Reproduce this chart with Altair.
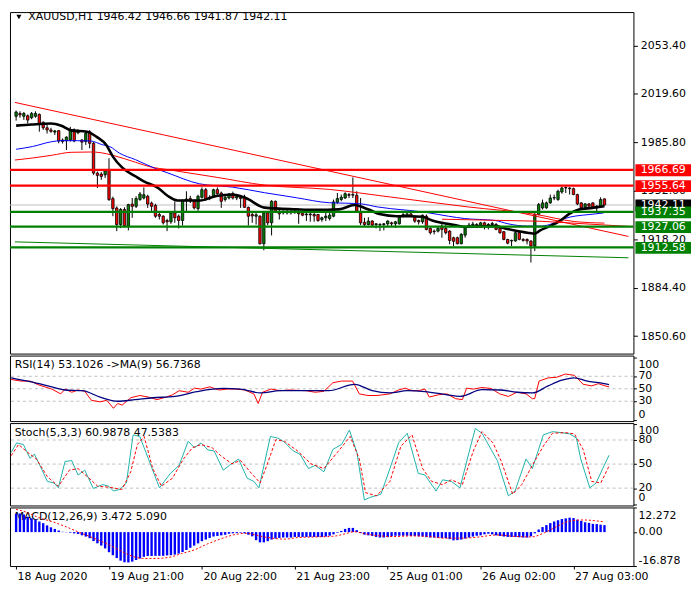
import altair as alt
import pandas as pd

# ---------------------------------------------------------------- data
main_title = "XAUUSD,H1  1946.42 1946.66 1941.87 1942.11"
rsi_title = "RSI(14) 53.1026  ->MA(9) 56.7368"
stoch_title = "Stoch(5,3,3) 60.9878 47.5383"
macd_title = "MACD(12,26,9) 3.472 5.090"

price_ticks = [2053.40, 2019.60, 1985.80, 1952.00, 1918.20, 1884.40, 1850.60]
date_tick_idx = [0, 24, 48, 72, 96, 120, 144]
date_tick_labels = ["18 Aug 2020", "19 Aug 21:00", "20 Aug 22:00", "21 Aug 23:00",
                    "25 Aug 01:00", "26 Aug 02:00", "27 Aug 03:00"]

opens = [
    2004, 2006, 2004, 2004.4, 2003, 2004, 2005.3, 1999.8, 1996, 1994.5,
    1993, 1994, 1987.5, 1987, 1987.5, 1994.4, 1992.5, 1987.5, 1986.4, 1993.3,
    1985.2, 1964.4, 1963.7, 1963.2, 1966.7, 1946.6, 1940, 1928.5, 1939, 1927.5,
    1942.8, 1941.2, 1946, 1947, 1948.2, 1943.5, 1941.9, 1935.5, 1934.3, 1931.3,
    1930.4, 1936.6, 1934.3, 1931.3, 1945.2, 1946.6, 1944.7, 1939.6, 1947.5, 1952.8,
    1947.5, 1947.7, 1952.8, 1950.5, 1945.9, 1947, 1950, 1947, 1947.5, 1947.7,
    1940.5, 1935.5, 1934.3, 1934.3, 1915.1, 1936.6, 1929.7, 1944.7, 1937.8, 1937.5,
    1936.6, 1937.5, 1936.8, 1937.8, 1936.4, 1935.3, 1935.8, 1935.5, 1935.5, 1932,
    1933.2, 1932.7, 1934.3, 1944, 1946, 1947, 1949.4, 1949.4, 1948.9, 1936.6,
    1930, 1928.5, 1930.9, 1928.5, 1928.2, 1928.5, 1929, 1929.7, 1929, 1929,
    1934.3, 1935, 1935.9, 1933.6, 1931.3, 1930.4, 1934.3, 1925.8, 1923.9, 1923.9,
    1927.4, 1925.8, 1923.9, 1919.3, 1919.3, 1915.1, 1921.1, 1927, 1928.1, 1928.5,
    1928.1, 1929.7, 1928.1, 1928.5, 1928.5, 1925.8, 1923.5, 1918.1, 1917, 1917,
    1922.8, 1918.1, 1918.1, 1917, 1913.5, 1935.5, 1940.1, 1940.1, 1943.6, 1947,
    1946, 1951.2, 1954, 1954, 1953.5, 1949.4, 1943.6, 1940.6, 1942.9, 1943.6,
    1941.3, 1940.6, 1946.42]
highs = [
    2008, 2007.5, 2007, 2005.3, 2007, 2007.5, 2006, 2000.5, 1998, 1996,
    1994.5, 1994.5, 1988.5, 1990, 1996.7, 1995.6, 1995, 1988, 1993.3, 1994.4,
    1986, 1965.5, 1965, 1966.7, 1974.8, 1948, 1941.2, 1940, 1940.5, 1943,
    1947, 1948.2, 1951.2, 1954.4, 1949.3, 1944.5, 1943, 1936.6, 1935, 1932.5,
    1937.5, 1944.7, 1935.5, 1945.9, 1951.7, 1948.5, 1946, 1949.3, 1954.4, 1954,
    1949, 1953.5, 1954.4, 1951.5, 1948.5, 1950.5, 1951.5, 1949.8, 1948.5, 1949.3,
    1941, 1936.5, 1936.5, 1935, 1937.8, 1937.5, 1945.5, 1945.2, 1940.1, 1939,
    1939, 1939, 1939, 1938.5, 1937.5, 1937, 1937, 1937, 1935.8, 1934,
    1937.1, 1936.6, 1945.9, 1950.5, 1949.4, 1951, 1950.5, 1961.4, 1951.7, 1947,
    1933.2, 1933.6, 1931.5, 1929.5, 1929.5, 1929.5, 1931.5, 1930.5, 1931, 1934.3,
    1936.5, 1937, 1937.1, 1935, 1932, 1935.5, 1935.5, 1926.5, 1925, 1926.5,
    1929.7, 1928.5, 1924.5, 1920, 1920, 1922.5, 1927, 1929.7, 1930.4, 1929.5,
    1930.4, 1930.4, 1929.5, 1930.4, 1929.5, 1926.5, 1924, 1918.5, 1918, 1923.5,
    1923.5, 1919, 1918.8, 1917.5, 1936.5, 1943.6, 1945.9, 1944.5, 1949.4, 1949.4,
    1952.8, 1955.1, 1955.1, 1954.5, 1954.3, 1950, 1944, 1943.5, 1943.5, 1944,
    1942, 1947.5, 1946.66]
lows = [
    2001, 2003, 2001.5, 1999, 2002, 2003, 1993.3, 1994.5, 1992, 1992.5,
    1991, 1985.2, 1985, 1980.5, 1986.4, 1985.9, 1991.5, 1980.5, 1984, 1981.7,
    1963.2, 1954, 1959.7, 1961, 1945, 1934.3, 1923.9, 1926, 1926.5, 1924.4,
    1933.2, 1940, 1945, 1946, 1940.1, 1936.6, 1933.2, 1932, 1928.5, 1923.9,
    1929, 1929.7, 1925.8, 1927.8, 1937.8, 1943.5, 1939, 1938, 1946.6, 1945,
    1945.5, 1947, 1949.3, 1940.1, 1944.5, 1946, 1946, 1945.5, 1940.1, 1940,
    1927.8, 1929.7, 1928.5, 1914.5, 1910.5, 1928, 1920.9, 1936.6, 1932, 1935.5,
    1935.5, 1935.5, 1936, 1929, 1934.3, 1931, 1930.5, 1930.5, 1930.4, 1930.4,
    1930.9, 1931.3, 1933.6, 1942.9, 1944.7, 1946.3, 1947, 1947, 1936.6, 1928.1,
    1927.4, 1927.9, 1926.7, 1925.8, 1923.9, 1924.4, 1927.4, 1927.4, 1926.2, 1928.5,
    1933.5, 1934, 1934.3, 1929.7, 1928.5, 1929, 1924.4, 1921.6, 1921.6, 1923,
    1919.3, 1921.6, 1914.7, 1913.5, 1914.7, 1914.7, 1919.3, 1926, 1926.5, 1926,
    1927, 1925.1, 1925.1, 1927.4, 1924.5, 1922, 1917.5, 1914.7, 1913.5, 1916.5,
    1917.5, 1916.5, 1914.7, 1902, 1910, 1935, 1939, 1939.5, 1943, 1945.5,
    1945, 1950, 1950.5, 1949.4, 1949, 1942, 1939, 1939.5, 1940, 1940,
    1937.8, 1940, 1941.87]
closes = [
    2007, 2005, 2006, 2001.4, 2006, 2006, 1999, 1996, 1994.5, 1993.5,
    1993.8, 1986.8, 1986.5, 1989.5, 1994.4, 1986.8, 1993.3, 1986, 1992.1, 1985.2,
    1964.4, 1962.8, 1962.1, 1966, 1945.9, 1939.6, 1928.5, 1939, 1927.5, 1942.4,
    1941.2, 1946.6, 1949.8, 1949.3, 1942.8, 1941.2, 1934.3, 1934.3, 1929.7, 1930.4,
    1936.6, 1933.2, 1931.3, 1944.7, 1946.3, 1945, 1940.1, 1948.2, 1952.8, 1945.9,
    1946.6, 1952.8, 1950, 1944.7, 1947.5, 1949.8, 1947, 1948, 1946.6, 1940.5,
    1934.3, 1934.5, 1935.3, 1915.1, 1936.6, 1929.7, 1944.7, 1937.8, 1936, 1936.6,
    1937.8, 1936.6, 1937.8, 1936, 1935, 1935.8, 1935.3, 1934.5, 1931.3, 1933.2,
    1934.3, 1935, 1944.3, 1946.6, 1947.5, 1950, 1948.9, 1949, 1937.8, 1929.7,
    1928.5, 1930.9, 1928.1, 1929, 1928.5, 1929, 1930.9, 1929, 1930.4, 1933.6,
    1935.5, 1935.9, 1935, 1930.9, 1930.4, 1935, 1925.1, 1922.8, 1923.5, 1925.8,
    1925.1, 1922.8, 1917.4, 1916.8, 1915.1, 1921.6, 1926.2, 1928.1, 1928.8, 1928.1,
    1929.7, 1927.4, 1928.5, 1929.2, 1925.1, 1922.8, 1918.1, 1915.5, 1917.4, 1922.8,
    1918.1, 1917.4, 1917, 1913.5, 1935.5, 1942.4, 1943.6, 1943.6, 1947, 1947.3,
    1951.7, 1954, 1954.3, 1953.5, 1949.4, 1942.9, 1940.1, 1942.9, 1941.3, 1940.6,
    1940.1, 1945.9, 1942.11]

# moving averages on the price chart (bar index, price)
ma_black_idx = [0, 4, 9, 11.7, 14.2, 18.3, 20.9, 23.3, 25, 27.5, 30.8, 33, 36.7, 39.2, 41.7,
                47.5, 51.7, 55.9, 59.2, 64.2, 72.4, 77.4, 83.4, 87.4, 90.9, 94.2, 98.3, 101.7,
                105, 107.5, 110, 113.3, 115.8, 120, 123.8, 126.3, 128.8, 132.1, 134, 135.4,
                137.9, 140.4, 142.9, 145.4, 148.8, 152]
ma_black_val = [1997.5, 1998.3, 1999.0, 1997.4, 1994.2, 1993.3, 1989.5, 1984.0, 1975.9, 1968.0,
                1962.2, 1958.6, 1954.0, 1948.4, 1945.3, 1945.3, 1948.4, 1949.5, 1947.2, 1940.3,
                1939.1, 1938.7, 1939.1, 1942.1, 1939.1, 1935.6, 1934.3, 1934.3, 1933.9, 1931.3,
                1929.7, 1928.1, 1926.9, 1927.2, 1927.4, 1925.8, 1924.4, 1922.8, 1922.1, 1924.4,
                1927.4, 1930.9, 1935.9, 1938.9, 1940.1, 1941.3]
ma_blue_idx = [0, 4.2, 9.2, 11.7, 15.8, 19.2, 22.4, 24.2, 26.7, 30.9, 35.8, 39.2, 47.4, 55.9,
               64.2, 72.4, 80.9, 85, 89.2, 93.3, 96.7, 101.7, 106.7, 111.7, 115.8, 123.8, 127.1,
               132.1, 135.4, 137.9, 140.4, 142.9, 146.3, 149.6, 151.8]
ma_blue_val = [1981.0, 1982.9, 1986.3, 1987.0, 1987.0, 1986.8, 1984.1, 1982.9, 1978.3, 1973.7,
               1967.8, 1964.5, 1956.9, 1954.6, 1950.7, 1947.2, 1943.7, 1943.4, 1942.9, 1940.8,
               1939.6, 1938.3, 1936.6, 1934.3, 1932.7, 1931.3, 1929.0, 1927.4, 1927.4, 1928.5,
               1931.3, 1933.6, 1935.0, 1935.9, 1936.6]
ma_red_idx = [-0.3, 4.2, 9.2, 14.2, 19.2, 21.7, 25, 30.9, 35, 39.2, 51.7, 64.2, 80.9, 96.7,
              116.7, 134.2, 144.2, 152]
ma_red_val = [1973.5, 1974.9, 1976.8, 1978.9, 1979.1, 1978.7, 1976.8, 1971.9, 1968.5, 1966.8,
              1961.5, 1956.0, 1953.0, 1947.7, 1940.8, 1935.6, 1930.6, 1929.5]

# trend lines (bar index, price)
trend_red_idx = [-0.3, 158.2]
trend_red_val = [2013.7, 1920.2]
trend_red2_idx = [110, 135.4, 158.2]
trend_red2_val = [1932.2, 1930.8, 1927.2]
trend_green_idx = [-0.3, 158.2]
trend_green_val = [1916.4, 1905.3]

# horizontal levels
level_prices = [1966.69, 1955.64, 1937.35, 1927.06, 1912.58]
level_colors = ["#FF0000", "#FF0000", "#008000", "#008000", "#008000"]
last_price = 1942.11
box_prices = [1942.11, 1966.69, 1955.64, 1937.35, 1927.06, 1912.58]
box_texts = ["1942.11", "1966.69", "1955.64", "1937.35", "1927.06", "1912.58"]
box_colors = ["#000000", "#FF0000", "#FF0000", "#008000", "#008000", "#008000"]

# RSI(14) and its MA(9)
rsi_idx = [0, 2.5, 4.8, 7, 10.3, 12.6, 13.7, 15.4, 17, 18.7, 20.4, 22.6, 24.3, 26, 27.1, 28.2,
           30.4, 32.7, 34.9, 37.1, 39.4, 41, 42.7, 45, 46.6, 48.3, 50.5, 52.8, 55, 57.2, 59.4,
           61.7, 62.8, 63.9, 66.1, 68.4, 70.6, 75, 77.3, 79.5, 81.8, 84, 86.8, 88.5, 90.7, 93,
           96.3, 98.5, 100.2, 101.9, 103.5, 105.2, 106.3, 108.6, 110.8, 113, 114.7, 115.8,
           117.5, 119.7, 122, 124.2, 126.4, 128.6, 130.9, 132.5, 133.1, 134.2, 136.5, 138.7,
           140.9, 143.2, 145.4, 147.6, 149.3, 151, 152]
rsi_val = [64.9, 62.3, 62.3, 56.2, 49.5, 41.8, 49.5, 44.4, 48, 45.9, 31.5, 29, 31.5, 18.7, 26.4,
           23.8, 35.6, 39.2, 36.7, 32.6, 36.7, 40.3, 46.9, 44.4, 51, 49.5, 53.1, 48, 49.5, 49.5,
           48, 41.8, 26.4, 44.4, 49.5, 46.9, 48, 46.9, 44.4, 45.9, 59.7, 62.3, 62.3, 41.8, 39.2,
           39.2, 41.8, 48, 51, 46.9, 46.9, 49.5, 36.7, 40.3, 41.8, 34.1, 32.6, 51, 49.5, 52,
           50.5, 41.8, 37.7, 44.4, 41.8, 34.1, 34.1, 62.3, 67.4, 68.5, 73.6, 71.5, 57.2, 54.6,
           58.2, 54.6, 53.1]
rsi_ma_idx = [0, 4.8, 10.3, 13.7, 18.1, 22.6, 27.1, 31.5, 36, 41.6, 47.2, 53.9, 58.3, 63.3,
              68.4, 77.3, 80.7, 87.3, 91.8, 96.3, 100.7, 105.2, 110.8, 114.1, 119.7, 124.2,
              128.6, 132.5, 136.5, 139.8, 143.2, 146.5, 149.3, 152]
rsi_ma_val = [67.4, 61.3, 53.1, 48, 46.9, 36.7, 30, 32.6, 35.6, 37.7, 45.4, 50.5, 49.5, 43.3,
              46.9, 46.9, 46.9, 57.2, 46.9, 43.3, 46.9, 45.4, 40.3, 37.7, 48.5, 48, 44.4, 43.3,
              54.6, 63.3, 67.4, 62.3, 59.7, 56.7]
rsi_levels = [70, 50, 30]

# Stochastic(5,3,3)
stoch_k_idx = [0, 1.4, 3.1, 4.8, 5.9, 7.5, 9.2, 10.9, 12, 13.7, 15.4, 17, 18.7, 20.9, 23.2,
               24.8, 26, 27.6, 29.3, 31, 32.7, 34.9, 37.7, 40.5, 42.7, 45, 46.6, 48.3, 50, 51.6,
               53.9, 55.5, 57.8, 60, 61.7, 63, 65.9, 67.8, 69.5, 71.7, 73.4, 75.6, 77.3, 79.5,
               81.8, 84, 86, 87.9, 89.8, 91.2, 94, 96.3, 98.5, 100.7, 103.5, 105.2, 108, 109.7,
               111.9, 114.1, 116.4, 118, 119.7, 122, 123.6, 126.4, 128.1, 130.9, 132.5, 135.3,
               137.6, 139.8, 142, 143.7, 144.8, 147.1, 148.7, 150.4, 152]
stoch_k_val = [64.4, 76.4, 74.4, 57.2, 62.4, 46.4, 28.4, 26.4, 20.4, 53.2, 54.4, 36.4, 42.4,
               19.6, 24.4, 22.4, 16.4, 18.4, 26.4, 86.4, 84.4, 56.4, 20.4, 38.4, 48.4, 78.4,
               70.4, 76.4, 67.6, 66.4, 42.4, 48.4, 56.4, 32.4, 28.4, 20.4, 84.4, 82.4, 77.2,
               66.4, 62.4, 44.4, 48.4, 40.4, 68.4, 74.4, 92.4, 64.4, 5.2, 8.4, 12.4, 44.4, 76.4,
               88.4, 38.4, 36.4, 16.4, 30.4, 28.4, 20.4, 64.4, 94.4, 88.4, 68.4, 54.4, 10.4,
               16.4, 56.4, 44.4, 86.4, 90.4, 89.2, 87.6, 82.4, 56.4, 20.4, 26.4, 44.4, 61.0]
stoch_d_idx = [0, 1.9, 4.2, 6.4, 9.2, 12, 14.8, 17, 19.8, 22, 24.8, 28.2, 30.4, 32.1, 33.8, 36,
               38.2, 41, 43.8, 46.1, 48.3, 51.1, 53.3, 56.1, 58.3, 61.1, 63.3, 65, 67.3, 69.5,
               72.8, 76.2, 79.5, 82.9, 86.2, 88.5, 90.1, 92.9, 96.3, 99.1, 101.9, 104.6, 106.9,
               109.7, 111.9, 114.7, 117.5, 119.7, 122.5, 124.7, 127.5, 129.8, 132.5, 135.3,
               137.6, 140.9, 143.2, 145.4, 147.6, 149.9, 152]
stoch_d_val = [60.4, 74.4, 64.4, 56.4, 34.4, 22.4, 42.4, 44.4, 32.4, 22.4, 21.2, 18.4, 40.4,
               74.4, 84.4, 44.4, 22.4, 32.4, 56.4, 70.4, 74.4, 70.4, 60.4, 50.4, 54.4, 38.4,
               26.4, 48.4, 80.4, 78.4, 66.4, 50.4, 44.4, 64.4, 84.4, 56.4, 14.4, 10.4, 28.4,
               72.4, 86.4, 44.4, 28.4, 24.4, 30.4, 24.4, 66.4, 90.4, 76.4, 52.4, 12.4, 24.4,
               48.4, 72.4, 88.4, 89.2, 87.6, 68.4, 28.4, 26.4, 47.5]
stoch_levels = [80, 50, 20]

# MACD(12,26,9): histogram per bar and signal line
macd_hist = [
    9.24, 9.24, 8.76, 7.65, 6.85, 6.21, 5.26, 4.46, 3.35, 2.39,
    1.59, 0.80, 0.16, -0.10, -0.32, -0.64, -0.96, -1.59, -2.23, -3.03,
    -4.46, -5.58, -6.69, -8.12, -10.0, -11.5, -12.9, -14.2, -15.0, -15.1,
    -14.7, -13.9, -13.1, -12.3, -11.9, -11.9, -11.8, -11.8, -11.8, -11.6,
    -11.5, -11.2, -10.7, -9.9, -8.9, -7.8, -6.7, -5.6, -4.5, -3.7,
    -2.9, -2.2, -1.9, -1.6, -1.3, -0.8, -0.6, -0.5, -0.3, -0.6,
    -1.3, -2.1, -4.0, -5.1, -5.1, -4.5, -3.7, -3.2, -2.9, -2.7,
    -2.7, -2.7, -2.4, -2.4, -2.4, -2.4, -2.4, -2.4, -2.4, -2.4,
    -2.2, -1.8, -1.1, -0.3, 0.6, 1.6, 2.1, 2.1, 1.0, -0.5,
    -1.3, -1.6, -1.9, -2.4, -2.7, -2.7, -2.5, -2.1, -1.8, -1.8,
    -1.8, -1.8, -1.9, -1.9, -2.1, -2.2, -2.5, -2.7, -2.7, -2.9,
    -3.0, -3.0, -3.5, -4.1, -4.0, -3.7, -3.2, -2.7, -2.2, -1.8,
    -1.6, -1.1, -0.8, -1.1, -1.6, -1.9, -2.2, -2.4, -2.4, -2.4,
    -2.5, -2.7, -2.7, -2.1, -0.6, 1.3, 2.5, 3.5, 4.5, 5.3,
    5.9, 6.5, 6.85, 7.2, 7.0, 6.2, 5.6, 4.9, 4.6, 4.1,
    4.0, 3.7, 3.47]
macd_sig_idx = [0, 2.5, 5.9, 9.2, 12.6, 15.9, 19.3, 22.6, 26, 29.3, 32.7, 36, 39.4, 42.7, 46.1,
                49.4, 52.7, 56.1, 59.4, 62.8, 66.1, 69.5, 72.8, 77.3, 81.8, 85.1, 87.3, 90.7, 94,
                97.4, 101.9, 106.3, 110.8, 115.3, 119.7, 124.2, 128.6, 133.1, 136.5, 139.8,
                143.2, 146.5, 149.9, 152]
macd_sig_val = [11.3, 10.0, 7.2, 5.3, 2.9, 0.2, -2.4, -5.1, -8.3, -11.5, -13.1, -13.1, -12.6,
                -10.7, -8.8, -5.9, -3.5, -1.4, -0.6, -1.9, -3.0, -3.5, -2.7, -2.4, -2.1, -0.8,
                0.2, -1.1, -1.9, -2.2, -1.9, -2.1, -3.0, -3.0, -2.4, -1.4, -2.1, -2.4, -0.3, 2.9,
                5.6, 6.05, 5.6, 5.09]

# ---------------------------------------------------------------- style
FONT = "DejaVu Sans"
W = 628
H_MAIN, H_RSI, H_STO, H_MACD = 344, 66, 83, 59
X_DOMAIN = [-0.3, 158.2]
GREEN, RED, BLUE, NAVY, TEAL, GRAY = "#008000", "#FF0000", "#0000FF", "#000080", "#20B2AA", "#C0C0C0"

xs = alt.Scale(domain=X_DOMAIN, nice=False, zero=False)
label_expr = " : ".join(f"datum.value == {i} ? '{s}'" for i, s in zip(date_tick_idx, date_tick_labels)) + " : ''"
date_axis = alt.Axis(values=date_tick_idx, labelExpr=label_expr, orient="bottom", tickSize=3,
                     tickColor="black", domain=False, grid=False, labelAlign="left",
                     labelBaseline="top", labelFont=FONT, labelFontSize=11, labelColor="black",
                     labelPadding=2, labelOffset=1, labelOverlap=False, labelFlush=False,
                     labelBound=False, title=None)


def X(axis=None):
    return alt.X("i:Q", scale=xs, axis=axis, title=None)


def line_df(idx, vals):
    return pd.DataFrame({"i": idx, "v": vals})


one_row = lambda s: pd.DataFrame({"t": [s]})

# ---------------------------------------------------------------- main panel
main_scale = alt.Scale(domain=[1838.45, 2076.74], nice=False, zero=False)
main_axis = alt.Axis(orient="right", values=price_ticks, format=".2f", title=None, grid=False,
                     domain=False, tickSize=4, tickColor="black", labelFont=FONT,
                     labelFontSize=11, labelColor="black", labelPadding=3, zindex=0)


def YM(f):
    return alt.Y(f"{f}:Q", scale=main_scale, axis=main_axis, title=None)


candles = pd.DataFrame({"i": list(range(len(opens))), "o": opens, "h": highs, "l": lows, "c": closes})

cur_rule = alt.Chart(pd.DataFrame({"p": [last_price]})).mark_rule(color=GRAY, strokeWidth=1).encode(y=YM("p"))
wicks = alt.Chart(candles).mark_rule(color="black", strokeWidth=1).encode(x=X(), y=YM("l"), y2=alt.Y2("h"))
bodies = alt.Chart(candles).mark_bar(size=2.4, stroke="black", strokeWidth=0.8).encode(
    x=X(), y=YM("o"), y2=alt.Y2("c"),
    fill=alt.condition("datum.c >= datum.o", alt.value(GREEN), alt.value(RED)))


def main_line(idx, vals, color, width, interp="monotone"):
    return alt.Chart(line_df(idx, vals)).mark_line(color=color, strokeWidth=width, clip=True,
                                                   interpolate=interp).encode(x=X(), y=YM("v"))


ma_red = main_line(ma_red_idx, ma_red_val, RED, 1)
ma_blue = main_line(ma_blue_idx, ma_blue_val, BLUE, 1)
ma_black = main_line(ma_black_idx, ma_black_val, "black", 2.6)
tr_red = main_line(trend_red_idx, trend_red_val, RED, 1, "linear")
tr_red2 = main_line(trend_red2_idx, trend_red2_val, RED, 1, "linear")
tr_green = main_line(trend_green_idx, trend_green_val, GREEN, 1, "linear")

levels = pd.DataFrame({"p": level_prices, "col": level_colors})
level_rules = alt.Chart(levels).mark_rule(strokeWidth=2.2).encode(
    y=YM("p"), color=alt.Color("col:N", scale=None))

boxes = pd.DataFrame({"p": box_prices, "t": box_texts, "col": box_colors})
box_rect = alt.Chart(boxes).mark_rect(yOffset=-5.5, y2Offset=6.5).encode(
    x=alt.value(W + 2), x2=alt.value(W + 58), y=YM("p"), y2=alt.Y2("p"),
    fill=alt.Fill("col:N", scale=None))
box_text = alt.Chart(boxes).mark_text(align="center", baseline="middle", color="white", font=FONT,
                                      fontSize=11, dy=0.5).encode(
    x=alt.value(W + 30), y=YM("p"), text="t:N")

tri = alt.Chart(one_row("")).mark_point(shape="triangle-down", filled=True, size=26,
                                         color="black", opacity=1).encode(x=alt.value(9), y=alt.value(5))
main_txt = alt.Chart(one_row(main_title)).mark_text(align="left", baseline="middle", font=FONT,
                                                     fontSize=11, color="black").encode(
    x=alt.value(18.5), y=alt.value(5), text="t:N")

main = alt.layer(cur_rule, wicks, bodies, ma_red, ma_blue, ma_black, tr_red, tr_red2, tr_green,
                 level_rules, box_rect, box_text, tri, main_txt).properties(width=W, height=H_MAIN)


# ---------------------------------------------------------------- indicator helpers
def side_axis(vals):
    return alt.Axis(orient="right", values=vals, labels=False, ticks=True, tickSize=3,
                    tickColor="black", domain=False, grid=False, title=None)


def make_y(scale, vals):
    ax = side_axis(vals)
    return lambda f: alt.Y(f"{f}:Q", scale=scale, axis=ax, title=None)


def tick_text(vals, texts, Y, baseline, dy, xaxis=None):
    df = pd.DataFrame({"v": vals, "t": texts})
    return alt.Chart(df).mark_text(align="left", baseline=baseline, dy=dy, font=FONT, fontSize=11,
                                   color="black").encode(x=alt.value(W + 5), y=Y("v"), text="t:N")


def grid_rules(vals, Y):
    return alt.Chart(pd.DataFrame({"v": vals})).mark_rule(color=GRAY, strokeWidth=1,
                                                          strokeDash=[3, 3]).encode(y=Y("v"))


def panel_title(s, Y, y):
    return alt.Chart(one_row(s)).mark_text(align="left", baseline="middle", font=FONT, fontSize=11,
                                           color="black").encode(
        x=alt.value(4.7), y=alt.value(y), text="t:N")


# ---------------------------------------------------------------- RSI
YR = make_y(alt.Scale(domain=[-1.8, 103.2], nice=False, zero=False), [100, 70, 50, 30, 0])
rsi = alt.layer(
    grid_rules(rsi_levels, YR),
    alt.Chart(line_df(rsi_idx, rsi_val)).mark_line(color=RED, strokeWidth=1).encode(x=X(), y=YR("v")),
    alt.Chart(line_df(rsi_ma_idx, rsi_ma_val)).mark_line(color=NAVY, strokeWidth=1.3,
                                                         interpolate="monotone").encode(x=X(), y=YR("v")),
    panel_title(rsi_title, YR, 9.5),
    tick_text([70, 50, 30], ["70", "50", "30"], YR, "middle", 0),
    tick_text([100], ["100"], YR, "top", 2),
    tick_text([0], ["0"], YR, "bottom", 0),
).properties(width=W, height=H_RSI)

# ---------------------------------------------------------------- Stochastic
YS = make_y(alt.Scale(domain=[-1.6, 101.1], nice=False, zero=False), [100, 80, 50, 20, 0])
sto = alt.layer(
    grid_rules(stoch_levels, YS),
    alt.Chart(line_df(stoch_k_idx, stoch_k_val)).mark_line(color=TEAL, strokeWidth=1).encode(x=X(), y=YS("v")),
    alt.Chart(line_df(stoch_d_idx, stoch_d_val)).mark_line(color=RED, strokeWidth=1,
                                                           strokeDash=[3, 2]).encode(x=X(), y=YS("v")),
    panel_title(stoch_title, YS, 10.5),
    tick_text([80, 50, 20], ["80", "50", "20"], YS, "middle", 0),
    tick_text([100], ["100"], YS, "top", 1),
    tick_text([0], ["0"], YS, "bottom", -1),
).properties(width=W, height=H_STO)

# ---------------------------------------------------------------- MACD
YD = make_y(alt.Scale(domain=[-16.878, 12.272], nice=False, zero=False), [12.272, 0, -16.878])
macd_df = pd.DataFrame({"i": list(range(len(macd_hist))), "v": macd_hist})
macd = alt.layer(
    grid_rules([0], YD).encode(x=X(date_axis)),
    panel_title(macd_title, YD, 10),
    alt.Chart(macd_df).mark_bar(size=2.4, color=BLUE).encode(x=X(date_axis), y=YD("v"), y2=alt.datum(0)),
    alt.Chart(line_df(macd_sig_idx, macd_sig_val)).mark_line(color=RED, strokeWidth=1, strokeDash=[2, 2],
                                                             interpolate="monotone").encode(x=X(date_axis), y=YD("v")),
    tick_text([0], ["0.00"], YD, "middle", 0),
    tick_text([12.272], ["12.272"], YD, "top", 3),
    tick_text([-16.878], ["-16.878"], YD, "bottom", 0),
).properties(width=W, height=H_MACD)

chart = alt.vconcat(main, rsi, sto, macd, spacing=2, bounds="flush").resolve_scale(
    x="independent", y="independent"
).properties(padding=0, background="white").configure_view(
    stroke="black", strokeWidth=1, fill="white"
)

chart.save("out.html", embed_options={"renderer": "svg", "actions": False})
